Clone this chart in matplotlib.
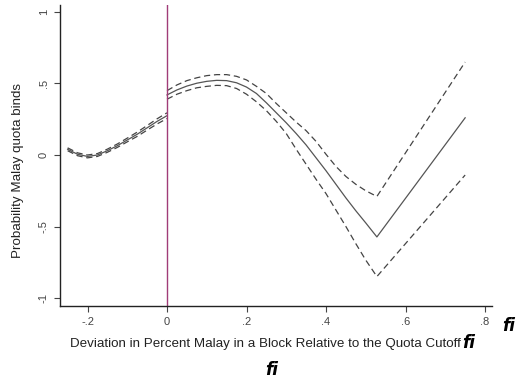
import matplotlib
matplotlib.use("Agg")
import matplotlib.pyplot as plt

plt.rcParams['font.family'] = ['Liberation Sans', 'DejaVu Sans']

# Left of cutoff
x_left = [-0.25, -0.225, -0.2, -0.175, -0.15, -0.125, -0.1, -0.075, -0.05, -0.025, 0.0]
fit_left = [0.04, 0.005, -0.01, 0.0, 0.03, 0.065, 0.105, 0.145, 0.19, 0.235, 0.275]
upper_left = [0.05, 0.015, 0.0, 0.01, 0.041, 0.077, 0.118, 0.16, 0.206, 0.253, 0.295]
lower_left = [0.03, -0.005, -0.02, -0.01, 0.019, 0.053, 0.092, 0.13, 0.174, 0.217, 0.255]

# Right of cutoff
x_right = [0.0, 0.025, 0.05, 0.075, 0.1, 0.125, 0.15, 0.175, 0.2, 0.225, 0.25, 0.275,
           0.3, 0.325, 0.35, 0.375, 0.4, 0.425, 0.45, 0.475, 0.5, 0.528, 0.75]
fit_right = [0.42, 0.455, 0.482, 0.502, 0.515, 0.522, 0.52, 0.505, 0.475, 0.43, 0.365, 0.295,
             0.225, 0.15, 0.07, -0.02, -0.11, -0.205, -0.30, -0.39, -0.475, -0.573, 0.26]
upper_right = [0.45, 0.49, 0.52, 0.54, 0.555, 0.562, 0.562, 0.55, 0.525, 0.48, 0.43, 0.36,
               0.295, 0.23, 0.17, 0.095, 0.005, -0.08, -0.15, -0.205, -0.25, -0.29, 0.65]
lower_right = [0.39, 0.425, 0.45, 0.47, 0.48, 0.487, 0.485, 0.465, 0.425, 0.372, 0.31, 0.235,
               0.15, 0.04, -0.065, -0.17, -0.27, -0.385, -0.50, -0.62, -0.735, -0.85, -0.14]

xticks = [-0.2, 0.0, 0.2, 0.4, 0.6, 0.8]
xticklabels = ['-.2', '0', '.2', '.4', '.6', '.8']
yticks = [-1, -0.5, 0, 0.5, 1]
yticklabels = ['-1', '-.5', '0', '.5', '1']

fig = plt.figure(figsize=(5.19, 3.83), dpi=100)
ax = fig.add_axes([0.1156, 0.201, 0.948 - 0.1156, 0.987 - 0.201])

dash = (0, (5, 3))
for xs, f, u, l in [(x_left, fit_left, upper_left, lower_left),
                    (x_right, fit_right, upper_right, lower_right)]:
    ax.plot(xs, f, color='#555555', lw=0.9)
    ax.plot(xs, u, color='#444444', lw=0.9, linestyle=dash)
    ax.plot(xs, l, color='#444444', lw=0.9, linestyle=dash)

ax.axvline(0, color='#a03c78', lw=1.0)

ax.set_xlim(-0.2692, 0.8176)
ax.set_ylim(-1.056, 1.049)
ax.set_xticks(xticks)
ax.set_xticklabels(xticklabels)
ax.set_yticks(yticks)
ax.set_yticklabels(yticklabels, rotation=90, va='center')
for s in ['top', 'right']:
    ax.spines[s].set_visible(False)
for s in ['left', 'bottom']:
    ax.spines[s].set_linewidth(1.0)
    ax.spines[s].set_color('#222222')
ax.tick_params(axis='both', length=4, width=0.8, color='#444444',
               labelsize=8, labelcolor='#444444', pad=4)

fig.text(0.135, 0.102, 'Deviation in Percent Malay in a Block Relative to the Quota Cutoff',
         fontsize=9.6, color='#222222', ha='left', va='center')
fig.text(0.035, 0.556, 'Probability Malay quota binds', fontsize=9.6, color='#222222',
         rotation=90, ha='center', va='center')

fi_kw = dict(fontsize=12, fontweight='bold', style='italic',
             family=['DejaVu Sans'], ha='left', va='center', color='black')
fig.text(0.890, 0.104, 'fi', **fi_kw)
fig.text(0.967, 0.149, 'fi', **fi_kw)
fig.text(0.511, 0.034, 'fi', **fi_kw)

fig.savefig('out.png', dpi=100)
